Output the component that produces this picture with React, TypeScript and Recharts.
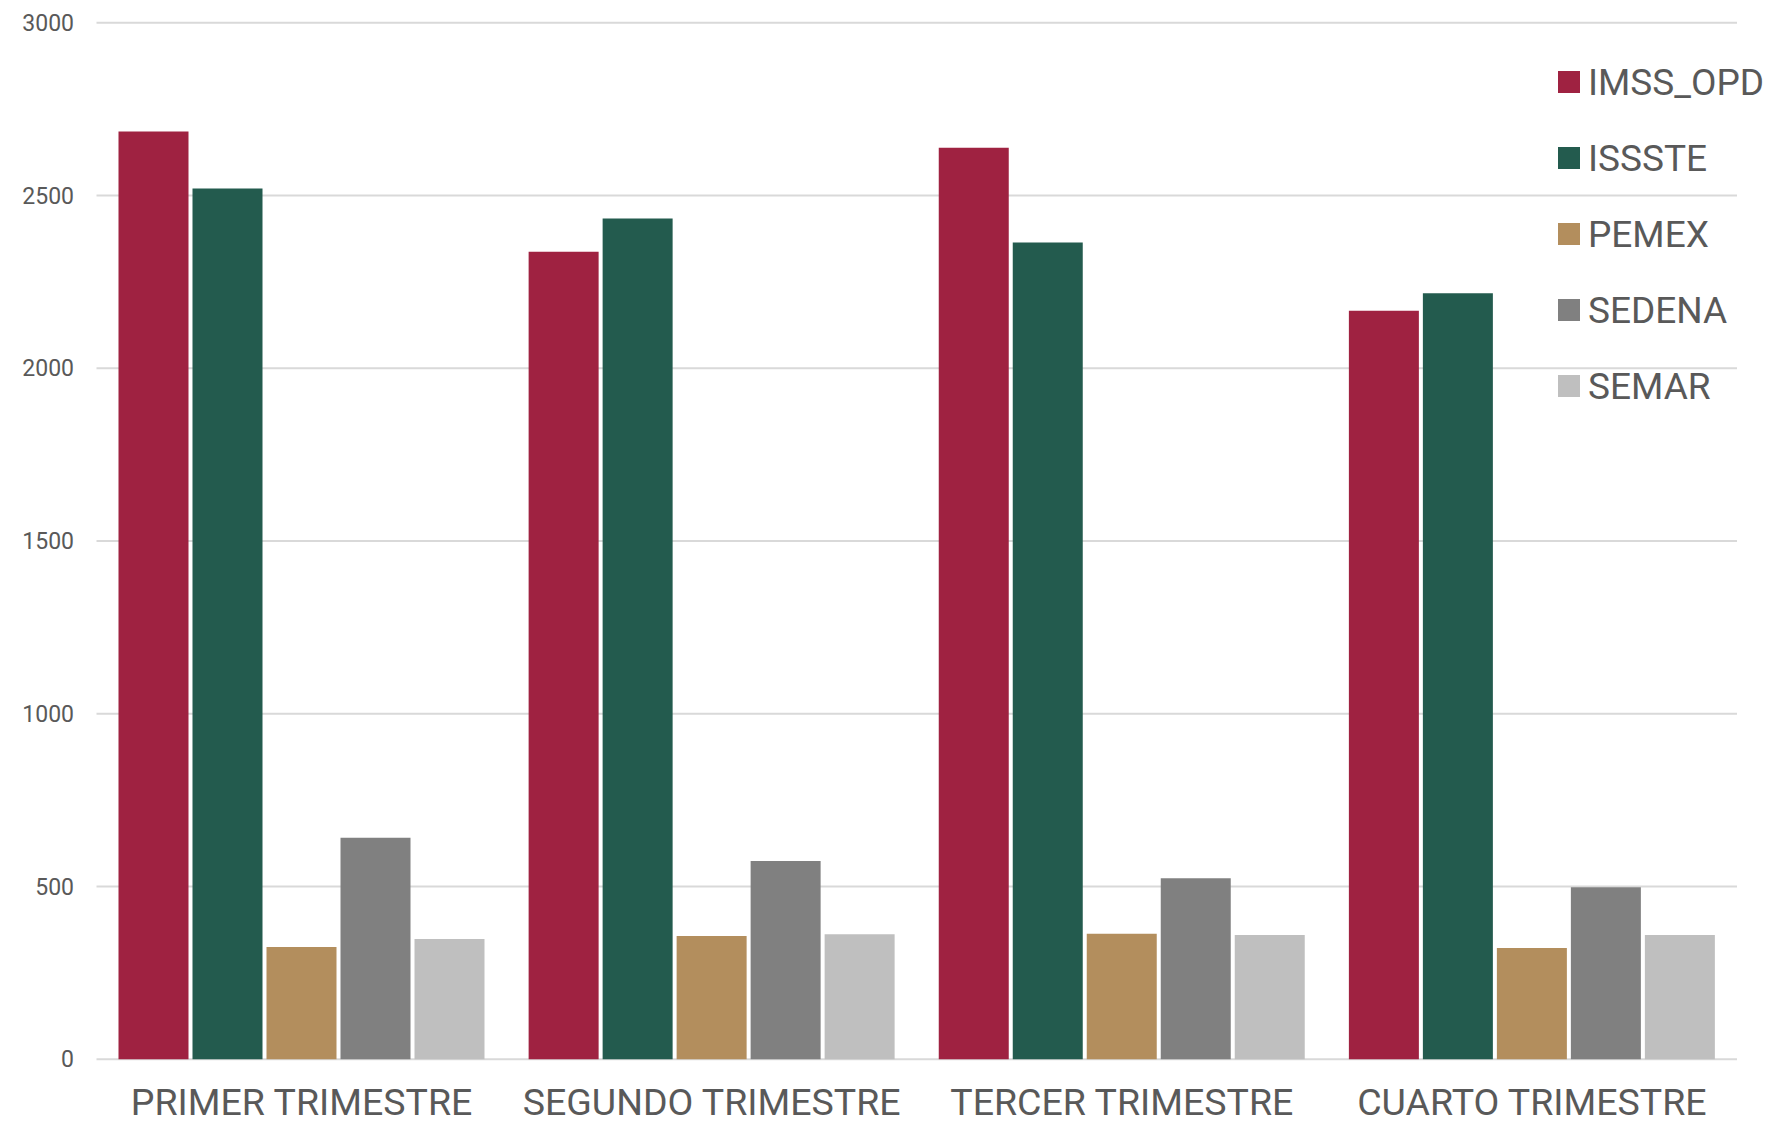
import { BarChart, Bar, XAxis, YAxis, CartesianGrid, Legend } from "recharts";

// quarters on the x axis
const quarters = ["PRIMER TRIMESTRE", "SEGUNDO TRIMESTRE", "TERCER TRIMESTRE", "CUARTO TRIMESTRE"];

// values per institution, one per quarter
const imssOpd = [2685, 2337, 2638, 2166];
const issste = [2520, 2433, 2364, 2217];
const pemex = [325, 357, 363, 322];
const sedena = [641, 574, 524, 498];
const semar = [348, 362, 360, 360];

const yTicks = [0, 500, 1000, 1500, 2000, 2500, 3000];

const series = [
  { key: "IMSS_OPD", color: "#9f2241" },
  { key: "ISSSTE", color: "#235b4e" },
  { key: "PEMEX", color: "#b38e5d" },
  { key: "SEDENA", color: "#808080" },
  { key: "SEMAR", color: "#bfbfbf" },
];

const data = quarters.map((q, i) => ({
  quarter: q,
  IMSS_OPD: imssOpd[i],
  ISSSTE: issste[i],
  PEMEX: pemex[i],
  SEDENA: sedena[i],
  SEMAR: semar[i],
}));

const textColor = "#595959";

function LegendBox({ payload }: any) {
  return (
    <div style={{ width: 260 }}>
      {(payload || []).map((p: any) => (
        <div key={p.value} style={{ display: "flex", alignItems: "center", height: 76, whiteSpace: "nowrap" }}>
          <span style={{ width: 22, height: 22, flexShrink: 0, background: p.color, marginRight: 8, display: "inline-block" }} />
          <span style={{ fontSize: 37, color: textColor, lineHeight: "37px" }}>{p.value}</span>
        </div>
      ))}
    </div>
  );
}

export default function App() {
  return (
    <div style={{ fontFamily: "Roboto, sans-serif", width: 1773, height: 1125, margin: -8 }}>
      <BarChart
        width={1773}
        height={1125}
        data={data}
        margin={{ top: 22.7, right: 36, bottom: 0, left: 0 }}
        barCategoryGap={22}
        barGap={4}
      >
        <CartesianGrid vertical={false} stroke="#d9d9d9" strokeWidth={2} />
        <XAxis
          dataKey="quarter"
          height={65.7}
          axisLine={false}
          tickLine={false}
          tickSize={0}
          tickMargin={29}
          interval={0}
          tick={{ fontSize: 37.5, fill: textColor }}
        />
        <YAxis
          width={96.5}
          domain={[0, 3000]}
          ticks={yTicks}
          axisLine={false}
          tickLine={false}
          tickSize={0}
          tickMargin={22.5}
          tick={{ fontSize: 23, fill: textColor }}
        />
        <Legend
          content={<LegendBox />}
          wrapperStyle={{ top: 44, left: 1558, width: 0, height: 0, overflow: "visible" }}
        />
        {series.map((s) => (
          <Bar key={s.key} dataKey={s.key} fill={s.color} isAnimationActive={false} />
        ))}
      </BarChart>
    </div>
  );
}
